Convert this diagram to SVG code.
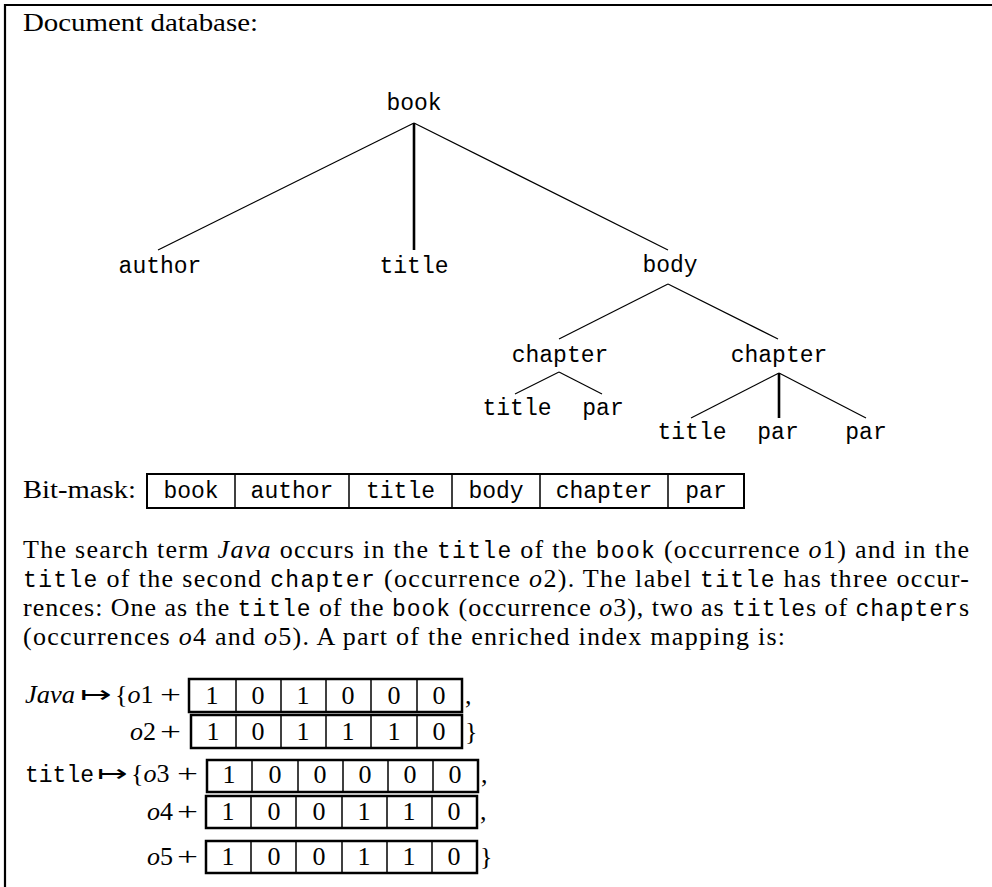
<svg xmlns="http://www.w3.org/2000/svg" width="992" height="887" viewBox="0 0 992 887">
<style>
.s{font-family:"Liberation Serif","Times New Roman",serif;font-size:26px;fill:#000}
.it{font-style:italic}
.m{font-family:"Liberation Mono","Courier New",monospace;font-size:23px;fill:#000}
.c{text-anchor:middle}
.thin{stroke:#000;stroke-width:1.2;fill:none}
.thick{stroke:#000;stroke-width:2.6;fill:none}
.box{stroke:#000;stroke-width:2;fill:none}
.box2{stroke:#000;stroke-width:2.5;fill:none}
.div{stroke:#000;stroke-width:1.5}
.frame{stroke:#000;stroke-width:2.2;fill:none}
</style>
<rect width="992" height="887" fill="#fff"/>
<path class="frame" d="M5,887 V5 H992"/>
<text class="s" x="23" y="31" textLength="235" lengthAdjust="spacingAndGlyphs">Document database:</text>

<g id="connectors">
<line class="thin" x1="414" y1="123" x2="158" y2="250"/>
<line class="thick" x1="414" y1="123" x2="414" y2="250"/>
<line class="thin" x1="414" y1="123" x2="668" y2="250"/>
<line class="thin" x1="668" y1="284" x2="559" y2="339"/>
<line class="thin" x1="668" y1="284" x2="778" y2="339"/>
<line class="thin" x1="559" y1="372" x2="515" y2="394"/>
<line class="thin" x1="559" y1="372" x2="602" y2="394"/>
<line class="thin" x1="779" y1="373" x2="691" y2="418"/>
<line class="thick" x1="779" y1="373" x2="779" y2="418"/>
<line class="thin" x1="779" y1="373" x2="866" y2="418"/>
</g>
<g id="n-book"><text class="m c" x="414" y="110">book</text></g>
<g id="n-author"><text class="m c" x="160" y="273">author</text></g>
<g id="n-title"><text class="m c" x="414" y="273">title</text></g>
<g id="n-body"><text class="m c" x="670" y="272">body</text></g>
<g id="n-chapter1"><text class="m c" x="560" y="362">chapter</text></g>
<g id="n-chapter2"><text class="m c" x="779" y="362">chapter</text></g>
<g id="n-title1"><text class="m c" x="517" y="415">title</text></g>
<g id="n-par1"><text class="m c" x="603" y="415">par</text></g>
<g id="n-title2"><text class="m c" x="692" y="439">title</text></g>
<g id="n-par2"><text class="m c" x="778" y="439">par</text></g>
<g id="n-par3"><text class="m c" x="866" y="439">par</text></g>

<g id="bitmask">
<text class="s" x="23" y="498" textLength="113" lengthAdjust="spacingAndGlyphs">Bit-mask:</text>
<rect class="box" x="147" y="474" width="597" height="34"/>
<line class="div" x1="235" y1="474" x2="235" y2="508"/>
<line class="div" x1="349" y1="474" x2="349" y2="508"/>
<line class="div" x1="452" y1="474" x2="452" y2="508"/>
<line class="div" x1="540" y1="474" x2="540" y2="508"/>
<line class="div" x1="668" y1="474" x2="668" y2="508"/>
<text class="m c" x="191" y="498">book</text>
<text class="m c" x="292" y="498">author</text>
<text class="m c" x="400.5" y="498">title</text>
<text class="m c" x="496" y="498">body</text>
<text class="m c" x="604" y="498">chapter</text>
<text class="m c" x="706" y="498">par</text>
</g>

<g id="paragraph">
<text class="s" x="23" y="558" textLength="946" lengthAdjust="spacing">The search term <tspan class="it">Java</tspan> occurs in the <tspan class="m">title</tspan> of the <tspan class="m">book</tspan> (occurrence <tspan class="it">o</tspan>1) and in the</text>
<text class="s" x="23" y="587" textLength="946" lengthAdjust="spacing"><tspan class="m">title</tspan> of the second <tspan class="m">chapter</tspan> (occurrence <tspan class="it">o</tspan>2).  The label <tspan class="m">title</tspan> has three occur-</text>
<text class="s" x="23" y="616" textLength="946" lengthAdjust="spacing">rences: One as the <tspan class="m">title</tspan> of the <tspan class="m">book</tspan> (occurrence <tspan class="it">o</tspan>3), two as <tspan class="m">title</tspan>s of <tspan class="m">chapter</tspan>s</text>
<text class="s" x="23" y="645" textLength="762" lengthAdjust="spacing">(occurrences <tspan class="it">o</tspan>4 and <tspan class="it">o</tspan>5). A part of the enriched index mapping is:</text>
</g>

<g id="mapping">
<text class="s it" x="25" y="703" textLength="50" lengthAdjust="spacingAndGlyphs">Java</text>
<text class="s" x="80" y="703" textLength="32" lengthAdjust="spacingAndGlyphs">↦</text>
<text class="s" x="115" y="703">{<tspan class="it">o</tspan>1</text>
<text class="s" x="160" y="703" textLength="21" lengthAdjust="spacingAndGlyphs">+</text>
<rect class="box2" x="189" y="679" width="273" height="33"/>
<line class="div" x1="236" y1="679" x2="236" y2="712"/>
<line class="div" x1="281" y1="679" x2="281" y2="712"/>
<line class="div" x1="326" y1="679" x2="326" y2="712"/>
<line class="div" x1="371" y1="679" x2="371" y2="712"/>
<line class="div" x1="417" y1="679" x2="417" y2="712"/>
<text class="s c" y="704"><tspan x="212">1</tspan><tspan x="258">0</tspan><tspan x="303">1</tspan><tspan x="348">0</tspan><tspan x="394">0</tspan><tspan x="439">0</tspan></text>
<text class="s" x="465" y="704">,</text>

<text class="s" x="130" y="740"><tspan class="it">o</tspan>2</text>
<text class="s" x="160" y="740" textLength="21" lengthAdjust="spacingAndGlyphs">+</text>
<rect class="box2" x="191" y="715" width="271" height="33"/>
<line class="div" x1="236" y1="715" x2="236" y2="748"/>
<line class="div" x1="281" y1="715" x2="281" y2="748"/>
<line class="div" x1="326" y1="715" x2="326" y2="748"/>
<line class="div" x1="371" y1="715" x2="371" y2="748"/>
<line class="div" x1="417" y1="715" x2="417" y2="748"/>
<text class="s c" y="740"><tspan x="213">1</tspan><tspan x="258">0</tspan><tspan x="303">1</tspan><tspan x="348">1</tspan><tspan x="394">1</tspan><tspan x="439">0</tspan></text>
<text class="s" x="465" y="740">}</text>

<text class="m" x="25" y="782">title</text>
<text class="s" x="97" y="782" textLength="31" lengthAdjust="spacingAndGlyphs">↦</text>
<text class="s" x="131" y="782">{<tspan class="it">o</tspan>3</text>
<text class="s" x="177" y="782" textLength="21" lengthAdjust="spacingAndGlyphs">+</text>
<rect class="box2" x="207" y="760" width="271" height="32"/>
<line class="div" x1="252" y1="760" x2="252" y2="792"/>
<line class="div" x1="298" y1="760" x2="298" y2="792"/>
<line class="div" x1="343" y1="760" x2="343" y2="792"/>
<line class="div" x1="388" y1="760" x2="388" y2="792"/>
<line class="div" x1="433" y1="760" x2="433" y2="792"/>
<text class="s c" y="783"><tspan x="229">1</tspan><tspan x="275">0</tspan><tspan x="320">0</tspan><tspan x="365">0</tspan><tspan x="410">0</tspan><tspan x="455">0</tspan></text>
<text class="s" x="481" y="783">,</text>

<text class="s" x="147" y="820"><tspan class="it">o</tspan>4</text>
<text class="s" x="177" y="820" textLength="21" lengthAdjust="spacingAndGlyphs">+</text>
<rect class="box2" x="206" y="796" width="271" height="32"/>
<line class="div" x1="251" y1="796" x2="251" y2="828"/>
<line class="div" x1="296" y1="796" x2="296" y2="828"/>
<line class="div" x1="342" y1="796" x2="342" y2="828"/>
<line class="div" x1="387" y1="796" x2="387" y2="828"/>
<line class="div" x1="432" y1="796" x2="432" y2="828"/>
<text class="s c" y="820"><tspan x="228">1</tspan><tspan x="274">0</tspan><tspan x="319">0</tspan><tspan x="364">1</tspan><tspan x="409">1</tspan><tspan x="454">0</tspan></text>
<text class="s" x="480" y="820">,</text>

<text class="s" x="147" y="865"><tspan class="it">o</tspan>5</text>
<text class="s" x="177" y="865" textLength="21" lengthAdjust="spacingAndGlyphs">+</text>
<rect class="box2" x="206" y="841" width="271" height="32"/>
<line class="div" x1="251" y1="841" x2="251" y2="873"/>
<line class="div" x1="296" y1="841" x2="296" y2="873"/>
<line class="div" x1="342" y1="841" x2="342" y2="873"/>
<line class="div" x1="387" y1="841" x2="387" y2="873"/>
<line class="div" x1="432" y1="841" x2="432" y2="873"/>
<text class="s c" y="865"><tspan x="228">1</tspan><tspan x="274">0</tspan><tspan x="319">0</tspan><tspan x="364">1</tspan><tspan x="409">1</tspan><tspan x="454">0</tspan></text>
<text class="s" x="480" y="865">}</text>
</g>
</svg>
